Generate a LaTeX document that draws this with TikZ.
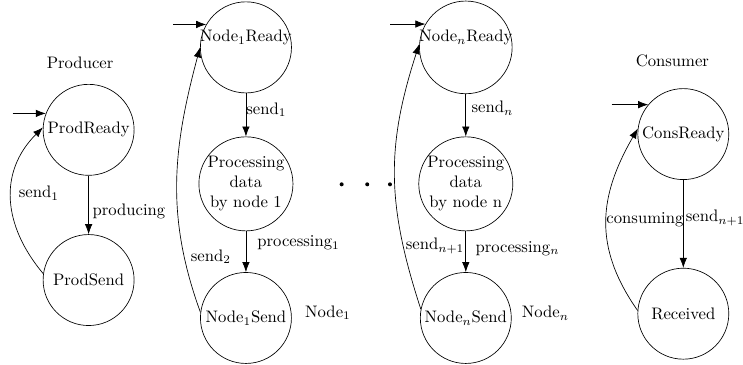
\documentclass[tikz,border=0pt]{standalone}
\usepackage{amssymb}
\usepackage{amsmath}
\usepackage{tikz}
\usetikzlibrary{arrows.meta}

\begin{document}
\begin{tikzpicture}[>={Latex[length=6pt,width=4.5pt]},
  stnode/.style={circle,draw,minimum size=1.92cm,inner sep=0pt,align=center}]
\useasboundingbox (0,0) rectangle (15.68,7.70);
\node (prodlbl) at (1.69,6.37) {Producer};
\node[stnode] (pr) at (1.87,4.96) {ProdReady};
\node[stnode] (ps) at (1.87,1.79) {ProdSend};
\coordinate (prin) at ([xshift=-.7cm]pr.159);
\draw[->] (prin) -- (pr.159);
\draw[->] (pr) -- (ps);
\draw[->] (ps.172) to[out=130,in=225,looseness=1.1] (pr.177);
\node (lprod) at (2.72,3.24) {producing};
\node (lpsend) at (0.82,3.62) {send$_1$};
\node[stnode] (n1r) at (5.19,6.70) {\raisebox{3.5pt}[0pt][0pt]{Node$_1$Ready}};
\node[stnode] (p1) at (5.19,3.82) {Processing\\data\\by node 1};
\node[stnode] (n1s) at (5.19,0.99) {Node$_1$Send};
\coordinate (n1in) at ([xshift=-.7cm]n1r.150);
\draw[->] (n1in) -- (n1r.150);
\draw[->] (n1r) -- (p1);
\draw[->] (p1) -- (n1s);
\draw[->] (n1s.173) to[out=110,in=255] (n1r.180);
\node (l1send) at (5.62,5.38) {send$_1$};
\node (l1proc) at (6.30,2.57) {processing$_1$};
\node (l1back) at (4.45,2.28) {send$_2$};
\node (n1lbl) at (6.92,1.10) {Node$_1$};
\fill (7.21,3.81) circle (1.2pt);
\fill (7.75,3.81) circle (1.2pt);
\fill (8.23,3.81) circle (1.2pt);
\node[stnode] (nnr) at (9.83,6.70) {\raisebox{3.5pt}[0pt][0pt]{Node$_n$Ready}};
\node[stnode] (pn) at (9.83,3.82) {Processing\\data\\by node n};
\node[stnode] (nns) at (9.83,0.99) {Node$_n$Send};
\coordinate (nnin) at ([xshift=-.74cm]nnr.150);
\draw[->] (nnin) -- (nnr.150);
\draw[->] (nnr) -- (pn);
\draw[->] (pn) -- (nns);
\draw[->] (nns.169) to[out=108,in=252,looseness=1.05] (nnr.176);
\node (lnsend) at (10.39,5.42) {send$_n$};
\node (lnproc) at (10.92,2.46) {processing$_n$};
\node (lnback) at (9.18,2.51) {send$_{n+1}$};
\node (nnlbl) at (11.51,1.09) {Node$_n$};
\node (conslbl) at (14.19,6.41) {Consumer};
\node[stnode] (cr) at (14.42,4.87) {ConsReady};
\node[stnode] (rc) at (14.42,1.08) {Received};
\coordinate (crin) at ([xshift=-.77cm]cr.140);
\draw[->] (crin) -- (cr.140);
\draw[->] (cr) -- (rc);
\draw[->] (rc.176) to[out=125,in=240,looseness=1.1] (cr.173);
\node (lcons) at (13.61,3.06) {consuming};
\node (lcsend) at (15.09,3.10) {send$_{n+1}$};
\end{tikzpicture}
\end{document}
